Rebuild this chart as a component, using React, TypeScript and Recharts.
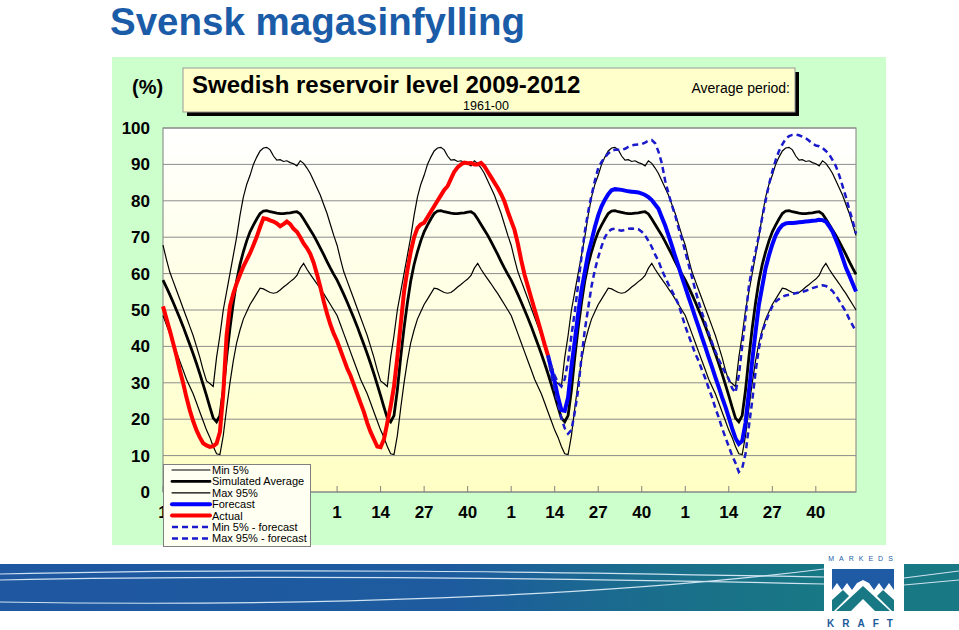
import React from 'react';
import { LineChart, Line, XAxis, YAxis, CartesianGrid } from 'recharts';

// weekly reservoir filling (%), one simulated year repeated for 2009-2012
const minPct = [48.5, 46, 43.5, 41, 38.5, 36, 33.5, 31, 29, 27, 24.5, 22, 19.5, 17, 15, 12.5, 10.5, 10.3, 15.5, 23, 30, 36, 41, 44.5, 47.5, 49.5, 51.5, 53, 54.5, 56, 55.8, 55.3, 54.8, 54.6, 54.8, 55.5, 56.3, 57, 57.8, 58.5, 59.5, 61.5, 62.8, 61.2, 59.8, 58.5, 57.2, 55.8, 54.5, 53, 51.5, 50];
const avgPct = [58.2, 56.3, 54.3, 52.2, 50, 47.8, 45.5, 43, 40.5, 38, 35.3, 32.5, 29.5, 26.5, 23.3, 20.3, 19.3, 21, 28, 37, 45, 52, 58, 62.5, 66, 69, 71.5, 73.3, 75, 76.5, 77.2, 77.3, 77, 76.8, 76.6, 76.5, 76.5, 76.6, 76.7, 76.9, 77, 76.4, 75, 73.5, 72, 70.5, 68.8, 67, 65.2, 63.3, 61.5, 59.8];
const maxPct = [67.8, 64, 60.5, 58, 55.5, 53, 50.5, 48, 45.5, 43, 40, 37, 33.5, 30.5, 29.8, 29, 37, 43, 50, 55, 60, 65, 70, 76, 81, 84.5, 87, 90, 92, 93.7, 94.5, 94.7, 94, 92.3, 91.2, 91.3, 90.8, 91, 90.5, 90.2, 89.6, 91, 90.3, 89, 87.5, 85.5, 83.5, 81.5, 79, 76.5, 73.5, 70.5];

const actual2009 = [51, 47.7, 44.5, 41, 37.5, 33.5, 30, 26, 22.5, 19.5, 17, 15, 13.4, 12.8, 12.4, 12.6, 13.3, 16.5, 27, 43, 51, 54.5, 57.3, 59.7, 61.9, 63.8, 65.6, 67.8, 70.1, 72.8, 75.2, 75, 74.6, 74.3, 73.8, 73, 73.6, 74.3, 73.6, 72.3, 71.5, 70, 68.3, 67, 65.4, 63, 59.8, 56.3, 52.4, 49, 46, 43.5];
const actual2010 = [41.5, 39, 36.5, 34, 32, 29.5, 27, 24.5, 22, 19, 16.5, 14.5, 12.5, 12.3, 14.5, 19, 23.5, 29, 37, 46, 55, 61, 66, 70, 72.5, 73.5, 74, 75.5, 77, 78.5, 80, 81.5, 83, 84, 86, 88, 89.2, 90, 90.5, 90.3, 90.4, 90, 90, 90.4, 89.5, 88, 86.5, 85, 83.5, 81.8, 79.8, 77];
const actual2011 = [74.5, 72, 68.2, 63.7, 59.7, 56.5, 53.3, 50.1, 47, 43.8, 40.5, 37.5];

// forecast starts at the last actual week (2011 week 12)
const forecast2011 = [37.5, 33.8, 30.2, 26, 22.5, 22.3, 26, 34.5, 41.5, 49, 55.5, 60.5, 65.5, 69, 72.8, 76, 78.5, 80.3, 81.8, 82.9, 83.2, 83.1, 83, 82.8, 82.6, 82.5, 82.4, 82.3, 82, 81.6, 81, 80.2, 79, 77.8, 75.5, 73.2, 70.5, 67.7, 64.7, 62, 59];
const forecast2012 = [56.3, 53.5, 50.8, 48, 45.3, 42.5, 39.8, 37, 34.3, 31.5, 28.8, 26, 23.4, 20.5, 17.5, 14.8, 13.2, 14, 19, 27.5, 36, 44, 51.5, 56.5, 61.5, 65, 68, 70.5, 72.2, 73.3, 73.8, 73.9, 73.9, 74, 74.1, 74.2, 74.3, 74.4, 74.5, 74.6, 74.8, 74.7, 74.3, 73, 71.5, 69.3, 67, 64.3, 61.6, 59.5, 57.3, 55.1];
const minForecast2011 = [37.5, 32, 28, 24, 20.3, 17.5, 16, 17, 22, 28, 37, 44.5, 50.5, 56.5, 61, 64.5, 67.5, 70, 71.5, 72.2, 72.3, 72, 71.8, 72, 72.3, 72.4, 72.3, 72.2, 71.5, 70.5, 69, 67.3, 65.2, 63.5, 61, 59, 57, 55.3, 53.5, 51.5, 48.5];
const minForecast2012 = [45.5, 43, 40.5, 38, 36, 33.5, 31.2, 28.5, 26, 23, 20.5, 17.5, 15, 12.5, 10, 8, 5.5, 6.5, 10.5, 18, 25, 33, 39.5, 44, 46.5, 49, 51, 52.3, 53, 53.6, 54, 54.2, 54.4, 54.6, 54.8, 55, 55.3, 55.6, 56, 56.3, 56.6, 56.8, 56.6, 56, 55.2, 54, 52.5, 51, 49.5, 47.5, 45.8, 44];
const maxForecast2011 = [37.5, 34.5, 32, 30, 29, 31, 36, 43, 49.5, 57, 64.5, 71.5, 77, 81.5, 85.5, 89, 90.7, 92, 93, 93.8, 94, 94, 94, 94.3, 94.8, 95.2, 95.4, 95.5, 95.6, 96, 96.5, 96.7, 95.8, 93.5, 90.3, 85.5, 82, 78.8, 76, 72.5, 69.5];
const maxForecast2012 = [66, 62.5, 59, 55.5, 52.2, 49.2, 46.4, 43.6, 41, 38.6, 36.4, 34.5, 32.7, 31, 28.5, 27.3, 32, 40, 48, 56.5, 61.8, 66, 70.5, 75.5, 80, 84.5, 88, 91.2, 93.7, 95.5, 97, 97.8, 98.1, 98.2, 98, 97.6, 97.2, 96.5, 95.7, 95.2, 95, 94.5, 93.7, 92.7, 91.2, 89.5, 87, 84, 81, 77.6, 74.5, 71];

const weekLabels = [1, 14, 27, 40];
const yTicks = [0, 10, 20, 30, 40, 50, 60, 70, 80, 90, 100];

const WEEKS = 52;
const YEARS = 4;

const actual = [...actual2009, ...actual2010, ...actual2011];
const forecastFrom = actual.length - 1;
const forecast = [...forecast2011, ...forecast2012];
const minForecast = [...minForecast2011, ...minForecast2012];
const maxForecast = [...maxForecast2011, ...maxForecast2012];

const data = Array.from({ length: WEEKS * YEARS }, (_, i) => {
  const w = i % WEEKS;
  const f = i - forecastFrom;
  return {
    i,
    min: minPct[w],
    avg: avgPct[w],
    max: maxPct[w],
    actual: i < actual.length ? actual[i] : null,
    forecast: f >= 0 ? forecast[f] : null,
    minForecast: f >= 0 ? minForecast[f] : null,
    maxForecast: f >= 0 ? maxForecast[f] : null,
  };
});

const xTicks: number[] = [];
for (let y = 0; y < YEARS; y++) {
  weekLabels.forEach((w) => xTicks.push(y * WEEKS + w - 1));
}

const series = [
  { key: 'min', name: 'Min 5%', color: '#000000', width: 1.2 },
  { key: 'avg', name: 'Simulated Average', color: '#000000', width: 2.8 },
  { key: 'max', name: 'Max 95%', color: '#000000', width: 1.2 },
  { key: 'forecast', name: 'Forecast', color: '#0000ff', width: 4 },
  { key: 'actual', name: 'Actual', color: '#ff0000', width: 4 },
  { key: 'minForecast', name: 'Min 5% - forecast', color: '#1a1acc', width: 2.5, dash: '6 4' },
  { key: 'maxForecast', name: 'Max 95% - forecast', color: '#1a1acc', width: 2.5, dash: '6 4' },
];

const FONT = '"Liberation Sans", Arial, sans-serif';

// plot area in page pixels
const PLOT = { left: 163, top: 128, right: 856, bottom: 492 };
const LEGEND = { left: 163, top: 464, width: 148, height: 83 };

const WeekTick = (props: any) => {
  const { x, y, payload } = props;
  // labels sitting fully under the legend box are not drawn
  const hidden = x > LEGEND.left + 6 && x < LEGEND.left + LEGEND.width + 6;
  return (
    <g>
      <line x1={x} x2={x} y1={y - 6} y2={y} stroke="#808080" />
      {!hidden && (
        <text x={x} y={y + 26} textAnchor="middle" fontSize={17} fontWeight="bold" fill="#000">
          {(payload.value % WEEKS) + 1}
        </text>
      )}
    </g>
  );
};

function Background() {
  return (
    <svg width={959} height={630} style={{ position: 'absolute', left: 0, top: 0 }}>
      <defs>
        <linearGradient id="plotBg" x1="0" y1="0" x2="0" y2="1">
          <stop offset="0" stopColor="#ffffff" />
          <stop offset="1" stopColor="#ffffc4" />
        </linearGradient>
        <linearGradient id="band" x1="0" y1="0" x2="1" y2="0">
          <stop offset="0" stopColor="#1f57a1" />
          <stop offset="0.55" stopColor="#1d5b9e" />
          <stop offset="0.8" stopColor="#1a6e8b" />
          <stop offset="1" stopColor="#187884" />
        </linearGradient>
      </defs>
      <text x={110} y={35} fontFamily={FONT} fontSize={38.5} fontWeight="bold" fill="#1b5ca8">
        Svensk magasinfylling
      </text>
      <rect x={112} y={57} width={774} height={488} fill="#ccffcc" />
      <rect x={187} y={72} width={612} height={44} fill="#000" />
      <rect x={183} y={68} width={612} height={44} fill="#ffffcc" stroke="#999" />
      <text x={132} y={94} fontFamily={FONT} fontSize={20} fontWeight="bold">(%)</text>
      <text x={192} y={92.5} fontFamily={FONT} fontSize={24} fontWeight="bold">
        Swedish reservoir level 2009-2012
      </text>
      <text x={790} y={93} textAnchor="end" fontFamily={FONT} fontSize={14}>Average period:</text>
      <text x={486} y={110} textAnchor="middle" fontFamily={FONT} fontSize={12.5}>1961-00</text>
      <rect
        x={PLOT.left}
        y={PLOT.top}
        width={PLOT.right - PLOT.left}
        height={PLOT.bottom - PLOT.top}
        fill="url(#plotBg)"
        stroke="#808080"
      />
      {/* footer band */}
      <rect x={0} y={564} width={824} height={47} fill="url(#band)" />
      <path d="M0,574 C300,567 600,573 824,577" stroke="#cfe3f0" strokeWidth={1.2} fill="none" />
      <path d="M0,580 C300,574 600,579 824,584" stroke="#cfe3f0" strokeWidth={1.2} fill="none" />
      <path d="M0,602 C300,607 600,597 824,569" stroke="#cfe3f0" strokeWidth={1.2} fill="none" />
      <rect x={904} y={564} width={55} height={47} fill="#187884" />
      <path d="M904,578 L959,571" stroke="#cfe3f0" strokeWidth={1.2} />
      <path d="M904,585 L959,580" stroke="#cfe3f0" strokeWidth={1.2} />
      {/* logo */}
      <text x={863} y={561} textAnchor="middle" fontFamily={FONT} fontSize={7} letterSpacing={5} fill="#1b5ca8">
        MARKEDS
      </text>
      <rect x={832} y={569} width={62} height={42} fill="#1f5aa5" />
      <path
        d="M832,611 L832,590 L837,583 L842,590 L847,583 L852,590 L857,583 L863,580 L869,583 L874,590 L879,583 L884,590 L889,583 L894,590 L894,611 Z"
        fill="#ffffff"
      />
      <path d="M836,611 L863,586 L890,611 Z" fill="#187884" />
      <path d="M832,600 L843,590 L849,596 L834,611 L832,611 Z" fill="#187884" />
      <path d="M894,600 L883,590 L877,596 L892,611 L894,611 Z" fill="#187884" />
      <path d="M851,611 L863,599 L875,611 Z" fill="#ffffff" />
      <text x={864} y={627} textAnchor="middle" fontFamily={FONT} fontSize={10} fontWeight="bold" letterSpacing={8} fill="#1b5a9a">
        KRAFT
      </text>
    </svg>
  );
}

function ChartLegend() {
  const rowH = 11.4;
  return (
    <svg
      width={LEGEND.width}
      height={LEGEND.height}
      style={{ position: 'absolute', left: LEGEND.left, top: LEGEND.top }}
    >
      <rect x={0.5} y={0.5} width={LEGEND.width - 1} height={LEGEND.height - 1} fill="#fffff2" stroke="#808080" />
      {series.map((s, k) => {
        const cy = 6 + k * rowH;
        return (
          <g key={s.key}>
            <line
              x1={9}
              x2={47}
              y1={cy}
              y2={cy}
              stroke={s.color}
              strokeWidth={s.width}
              strokeDasharray={s.dash}
              strokeLinecap={s.dash ? 'butt' : 'round'}
            />
            <text x={49} y={cy + 4} fontFamily={FONT} fontSize={11} fill="#000">
              {s.name}
            </text>
          </g>
        );
      })}
    </svg>
  );
}

export default function App() {
  return (
    <div style={{ position: 'absolute', left: 0, top: 0, width: 959, height: 630, overflow: 'hidden', background: '#fff' }}>
      <Background />
      <div style={{ position: 'absolute', left: 0, top: 0 }}>
        <LineChart
          width={959}
          height={630}
          data={data}
          margin={{ top: PLOT.top, right: 959 - PLOT.right, bottom: 630 - PLOT.bottom - 30, left: PLOT.left - 50 }}
          style={{ fontFamily: FONT }}
        >
          <CartesianGrid vertical={false} stroke="#8c8c8c" />
          <XAxis
            dataKey="i"
            type="number"
            domain={[0, WEEKS * YEARS - 1]}
            ticks={xTicks}
            interval={0}
            height={30}
            tickSize={0}
            tickMargin={0}
            axisLine={false}
            tickLine={false}
            tick={<WeekTick />}
          />
          <YAxis
            type="number"
            domain={[0, 100]}
            ticks={yTicks}
            interval={0}
            width={50}
            tickSize={0}
            tickMargin={13}
            axisLine={false}
            tickLine={false}
            tick={{ fill: '#000', fontSize: 17, fontWeight: 'bold' }}
          />
          {series.map((s) => (
            <Line
              key={s.key}
              type="linear"
              dataKey={s.key}
              name={s.name}
              stroke={s.color}
              strokeWidth={s.width}
              strokeDasharray={s.dash}
              dot={false}
              activeDot={false}
              isAnimationActive={false}
            />
          ))}
        </LineChart>
      </div>
      <ChartLegend />
    </div>
  );
}
